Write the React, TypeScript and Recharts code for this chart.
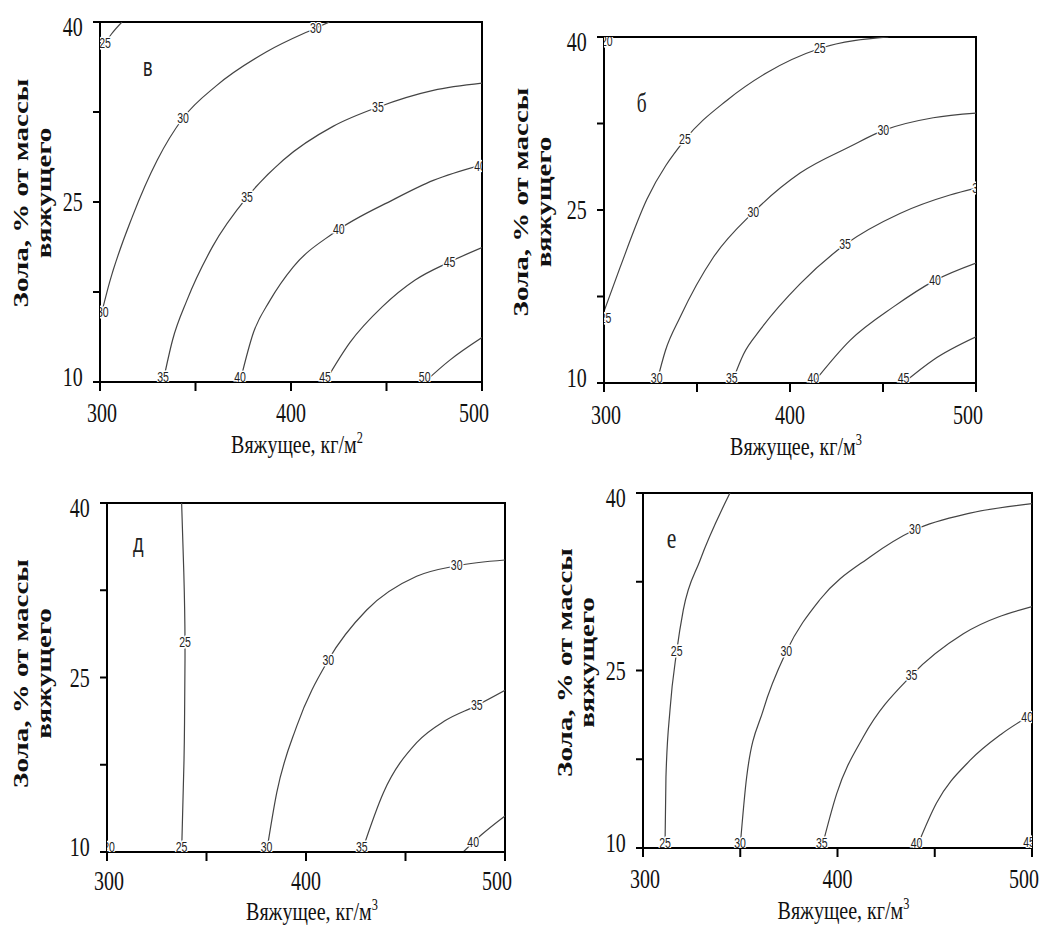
import React from 'react';
import {
  ComposedChart, Line, Scatter, XAxis, YAxis, ReferenceArea,
} from 'recharts';

// axis ticks (only the outer and middle ones carry a label)
const xTicks = [300, 350, 400, 450, 500];
const xTickLabels = [300, 400, 500];
const yTicks = [10, 17.5, 25, 32.5, 40];
const yTickLabels = [10, 25, 40];

const yTitle1 = 'Зола, % от массы';
const yTitle2 = 'вяжущего';
const xTitle = 'Вяжущее, кг/м';

// panel "в" contours
const vC25 = [{ x: 301, y: 37.8 }, { x: 306, y: 39 }, { x: 311.5, y: 40 }];
const vC30 = [{ x: 300, y: 15.2 }, { x: 305, y: 18.3 }, { x: 317, y: 23.8 }, { x: 330, y: 28.5 }, { x: 343.5, y: 32 }, { x: 361, y: 34.7 }, { x: 387, y: 37.5 }, { x: 413, y: 39.5 }, { x: 420, y: 40 }];
const vC35 = [{ x: 333, y: 10 }, { x: 338, y: 13.5 }, { x: 345.5, y: 16.8 }, { x: 359, y: 21.3 }, { x: 377, y: 25.4 }, { x: 396, y: 28.5 }, { x: 422, y: 31.3 }, { x: 445.5, y: 32.9 }, { x: 474.5, y: 34.3 }, { x: 500, y: 34.9 }];
const vC40 = [{ x: 373.3, y: 10 }, { x: 380.3, y: 14.1 }, { x: 389, y: 16.8 }, { x: 401.2, y: 19.6 }, { x: 422.1, y: 22.4 }, { x: 453.6, y: 25.2 }, { x: 474.5, y: 26.8 }, { x: 500, y: 28.1 }];
const vC45 = [{ x: 417.8, y: 10 }, { x: 430.9, y: 13.3 }, { x: 448, y: 16.3 }, { x: 465, y: 18.5 }, { x: 483, y: 20 }, { x: 500, y: 21.2 }];
const vC50 = [{ x: 470, y: 10 }, { x: 483, y: 11.8 }, { x: 500, y: 13.7 }];
const vLabels = [
  { x: 302.6, y: 38.2, t: '25' }, { x: 343.5, y: 32, t: '30' }, { x: 413, y: 39.5, t: '30' },
  { x: 301.5, y: 15.8, t: '30' }, { x: 333, y: 10.4, t: '35' }, { x: 377, y: 25.4, t: '35' },
  { x: 445.5, y: 32.9, t: '35' }, { x: 373.3, y: 10.4, t: '40' }, { x: 425, y: 22.7, t: '40' },
  { x: 499, y: 28, t: '40' }, { x: 417.8, y: 10.4, t: '45' }, { x: 483, y: 20, t: '45' },
  { x: 470, y: 10.4, t: '50' },
];

// panel "б" contours
const bC25 = [{ x: 300, y: 16.2 }, { x: 308.6, y: 20 }, { x: 323, y: 25.9 }, { x: 343.5, y: 31.1 }, { x: 366, y: 34.5 }, { x: 387.5, y: 36.9 }, { x: 416, y: 39 }, { x: 452.9, y: 40 }];
const bC30 = [{ x: 328.3, y: 10 }, { x: 333, y: 12.8 }, { x: 340.9, y: 15.7 }, { x: 358.8, y: 20.9 }, { x: 380.3, y: 24.8 }, { x: 405.4, y: 28.2 }, { x: 432.3, y: 30.5 }, { x: 450.2, y: 31.9 }, { x: 477, y: 33 }, { x: 500, y: 33.4 }];
const bC35 = [{ x: 368.7, y: 10 }, { x: 375, y: 12.5 }, { x: 383.9, y: 14.6 }, { x: 405.4, y: 18.6 }, { x: 429.6, y: 22 }, { x: 459.1, y: 24.7 }, { x: 486, y: 26.3 }, { x: 500, y: 26.9 }];
const bC40 = [{ x: 412.5, y: 10 }, { x: 432.3, y: 13.7 }, { x: 455.6, y: 16.6 }, { x: 478, y: 18.9 }, { x: 500, y: 20.4 }];
const bC45 = [{ x: 461, y: 10 }, { x: 477, y: 12 }, { x: 500, y: 14 }];
const bLabels = [
  { x: 301.5, y: 39.6, t: '20' }, { x: 300.8, y: 15.6, t: '25' }, { x: 343.5, y: 31.1, t: '25' },
  { x: 416, y: 39, t: '25' }, { x: 328.3, y: 10.4, t: '30' }, { x: 380.3, y: 24.8, t: '30' },
  { x: 450.2, y: 31.9, t: '30' }, { x: 368.7, y: 10.4, t: '35' }, { x: 429.6, y: 22, t: '35' },
  { x: 499.5, y: 26.9, t: '3' }, { x: 412.5, y: 10.4, t: '40' }, { x: 478, y: 18.9, t: '40' },
  { x: 461, y: 10.4, t: '45' },
];

// panel "д" contours
const dC25 = [{ x: 337.5, y: 40 }, { x: 338.6, y: 34 }, { x: 339.2, y: 28 }, { x: 339, y: 22 }, { x: 338.7, y: 17.9 }, { x: 337.5, y: 10 }];
const dC30 = [{ x: 380.2, y: 10 }, { x: 385.3, y: 15.1 }, { x: 395.3, y: 20.8 }, { x: 411.2, y: 26.5 }, { x: 430.5, y: 30.8 }, { x: 455.6, y: 33.7 }, { x: 475.7, y: 34.6 }, { x: 500, y: 35.1 }];
const dC35 = [{ x: 428, y: 10 }, { x: 438.9, y: 15.1 }, { x: 455.6, y: 19.4 }, { x: 470, y: 21.3 }, { x: 485.8, y: 22.6 }, { x: 500, y: 23.9 }];
const dC40 = [{ x: 479, y: 10 }, { x: 488.3, y: 11.5 }, { x: 500, y: 13.1 }];
const dLabels = [
  { x: 301, y: 10.4, t: '20' }, { x: 339.2, y: 28, t: '25' }, { x: 337.5, y: 10.4, t: '25' },
  { x: 380.2, y: 10.4, t: '30' }, { x: 411.2, y: 26.5, t: '30' }, { x: 475.7, y: 34.6, t: '30' },
  { x: 428, y: 10.4, t: '35' }, { x: 485.8, y: 22.6, t: '35' }, { x: 484, y: 10.8, t: '40' },
];

// panel "е" contours
const eC25 = [{ x: 311.3, y: 10 }, { x: 311.8, y: 16 }, { x: 313.9, y: 21.7 }, { x: 317.3, y: 26.6 }, { x: 320.7, y: 30.1 }, { x: 329.3, y: 34.3 }, { x: 344.7, y: 40 }];
const eC30 = [{ x: 349.9, y: 10 }, { x: 353.3, y: 16 }, { x: 361.9, y: 21.7 }, { x: 373.7, y: 26.6 }, { x: 391, y: 31 }, { x: 416.7, y: 34.6 }, { x: 439.8, y: 36.9 }, { x: 468.1, y: 38.3 }, { x: 500, y: 39.1 }];
const eC35 = [{ x: 391.9, y: 10 }, { x: 399.6, y: 14.6 }, { x: 413.3, y: 19.4 }, { x: 438.1, y: 24.6 }, { x: 464.7, y: 28.1 }, { x: 500, y: 30.4 }];
const eC40 = [{ x: 440.6, y: 10 }, { x: 450.9, y: 13.8 }, { x: 468.1, y: 17.4 }, { x: 484, y: 19.6 }, { x: 500, y: 21.3 }];
const eLabels = [
  { x: 311.3, y: 10.4, t: '25' }, { x: 317.3, y: 26.6, t: '25' }, { x: 349.9, y: 10.4, t: '30' },
  { x: 373.7, y: 26.6, t: '30' }, { x: 439.8, y: 36.9, t: '30' }, { x: 391.9, y: 10.4, t: '35' },
  { x: 438.1, y: 24.6, t: '35' }, { x: 440.6, y: 10.4, t: '40' }, { x: 497.5, y: 21, t: '40' },
  { x: 498.5, y: 10.5, t: '45' },
];

const SERIF = '"Liberation Serif", "DejaVu Serif", serif';
const SANS = '"Liberation Sans", Arial, sans-serif';
const SQUEEZE = 0.72;

const panels = [
  {
    left: 0, top: 0, width: 520, height: 460, mt: 22, mr: 38, mb: 18, yw: 100,
    contours: [vC25, vC30, vC35, vC40, vC45, vC50], labels: vLabels,
    letter: { x: 325, y: 36.2, t: 'в', font: SANS, size: 25 },
    sup: '2', y1: -72, y2: -49, ydy: -9, xdy: 71, tdy: 31,
  },
  {
    left: 500, top: 0, width: 545, height: 460, mt: 37, mr: 69, mb: 17, yw: 104,
    contours: [bC25, bC30, bC35, bC40, bC45], labels: bLabels,
    letter: { x: 320.3, y: 34.3, t: 'б', font: SERIF, size: 27 },
    sup: '3', y1: -76, y2: -53, ydy: -8, xdy: 72, tdy: 32,
  },
  {
    left: 0, top: 460, width: 540, height: 466, mt: 43, mr: 35, mb: 14, yw: 107,
    contours: [dC25, dC30, dC35, dC40], labels: dLabels,
    letter: { x: 315.7, y: 36.5, t: 'д', font: SANS, size: 25 },
    sup: '3', y1: -79, y2: -56, ydy: -4, xdy: 68, tdy: 29,
  },
  {
    left: 540, top: 460, width: 505, height: 466, mt: 33, mr: 13, mb: 18, yw: 103,
    contours: [eC25, eC30, eC35, eC40], labels: eLabels,
    letter: { x: 314.7, y: 36.2, t: 'е', font: SERIF, size: 30 },
    sup: '3', y1: -71, y2: -49, ydy: -8, xdy: 71, tdy: 31,
  },
];

const XTick = (props: any) => {
  const { x, y, payload, tdy } = props;
  if (!xTickLabels.includes(payload.value)) return <g />;
  const shift = payload.value === 500 ? -8 : payload.value === 300 ? 2 : 0;
  return (
    <g transform={`translate(${x + shift},${y}) scale(0.74,1)`}>
      <text x={0} y={tdy} textAnchor="middle" fontSize={27} fontFamily={SERIF} fill="#111">
        {payload.value}
      </text>
    </g>
  );
};

const YTick = (props: any) => {
  const { x, y, payload } = props;
  if (!yTickLabels.includes(payload.value)) return <g />;
  const shift = payload.value === 40 ? 5 : payload.value === 10 ? -5 : 0;
  return (
    <g transform={`translate(${x},${y + shift}) scale(0.74,1)`}>
      <text x={-14} y={9} textAnchor="end" fontSize={27} fontFamily={SERIF} fill="#111">
        {payload.value}
      </text>
    </g>
  );
};

const contourLabel = (props: any) => {
  const { cx, cy, payload } = props;
  return (
    <g transform={`translate(${cx},${cy}) scale(0.75,1)`}>
      <text
        x={0} y={0} textAnchor="middle" dominantBaseline="central"
        fontSize={14} fontFamily={SANS} fill="#222"
        stroke="#fff" strokeWidth={3} paintOrder="stroke"
      >
        {payload.t}
      </text>
    </g>
  );
};

const letterShape = (props: any) => {
  const { cx, cy, payload } = props;
  return (
    <g transform={`translate(${cx},${cy}) scale(${SQUEEZE},1)`}>
      <text x={0} y={0} textAnchor="middle" dominantBaseline="central"
        fontSize={payload.size} fontFamily={payload.font} fill="#222">
        {payload.t}
      </text>
    </g>
  );
};

function Panel({ p }: { p: (typeof panels)[number] }) {
  const xLabel = (lp: any) => {
    const vb = lp.viewBox;
    const cx = vb.x + vb.width / 2 + 6;
    const by = vb.y + p.xdy;
    return (
      <g transform={`translate(${cx},${by}) scale(0.77,1)`}>
        <text x={0} y={0} textAnchor="middle" fontSize={26} fontFamily={SERIF} fill="#111">
          {xTitle}
          <tspan dy={-10} fontSize={16}>{p.sup}</tspan>
        </text>
      </g>
    );
  };
  const yLabel = (lp: any) => {
    const vb = lp.viewBox;
    const plotLeft = vb.x + vb.width;
    const cy = vb.y + vb.height / 2 + p.ydy;
    return (
      <g>
        {[[yTitle1, p.y1], [yTitle2, p.y2]].map(([t, off]) => (
          <g key={t as string} transform={`translate(${plotLeft + (off as number)},${cy}) rotate(-90) scale(1,${SQUEEZE})`}>
            <text x={0} y={0} textAnchor="middle" fontSize={29} fontWeight="bold" fontFamily={SERIF} fill="#111">
              {t}
            </text>
          </g>
        ))}
      </g>
    );
  };

  return (
    <div style={{ position: 'absolute', left: p.left, top: p.top }}>
      <ComposedChart
        width={p.width}
        height={p.height}
        margin={{ top: p.mt, right: p.mr, bottom: p.mb, left: 0 }}
      >
        <XAxis
          type="number" dataKey="x" domain={[300, 500]} ticks={xTicks} interval={0}
          allowDataOverflow height={60} tickSize={9} tickMargin={0}
          tick={<XTick tdy={p.tdy} />}
          axisLine={{ stroke: '#000', strokeWidth: 2 }}
          tickLine={{ stroke: '#000', strokeWidth: 2 }}
          label={xLabel}
        />
        <YAxis
          type="number" dataKey="y" domain={[10, 40]} ticks={yTicks} interval={0}
          allowDataOverflow width={p.yw} tickSize={7} tickMargin={0}
          tick={<YTick />}
          axisLine={{ stroke: '#000', strokeWidth: 2 }}
          tickLine={{ stroke: '#000', strokeWidth: 2 }}
          label={yLabel}
        />
        <ReferenceArea x1={300} x2={500} y1={10} y2={40} fill="none" stroke="#000" strokeWidth={2} />
        {p.contours.map((c, i) => (
          <Line
            key={i} data={c} dataKey="y"
            type={c === dC25 ? 'natural' : 'monotone'}
            stroke="#444" strokeWidth={1.2} dot={false} activeDot={false}
            isAnimationActive={false}
          />
        ))}
        <Scatter data={p.labels} dataKey="y" shape={contourLabel} isAnimationActive={false} />
        <Scatter data={[p.letter]} dataKey="y" shape={letterShape} isAnimationActive={false} />
      </ComposedChart>
    </div>
  );
}

export default function App() {
  return (
    <div style={{ position: 'absolute', left: 0, top: 0, width: 1045, height: 926, background: '#fff' }}>
      {panels.map((p, i) => <Panel key={i} p={p} />)}
    </div>
  );
}
